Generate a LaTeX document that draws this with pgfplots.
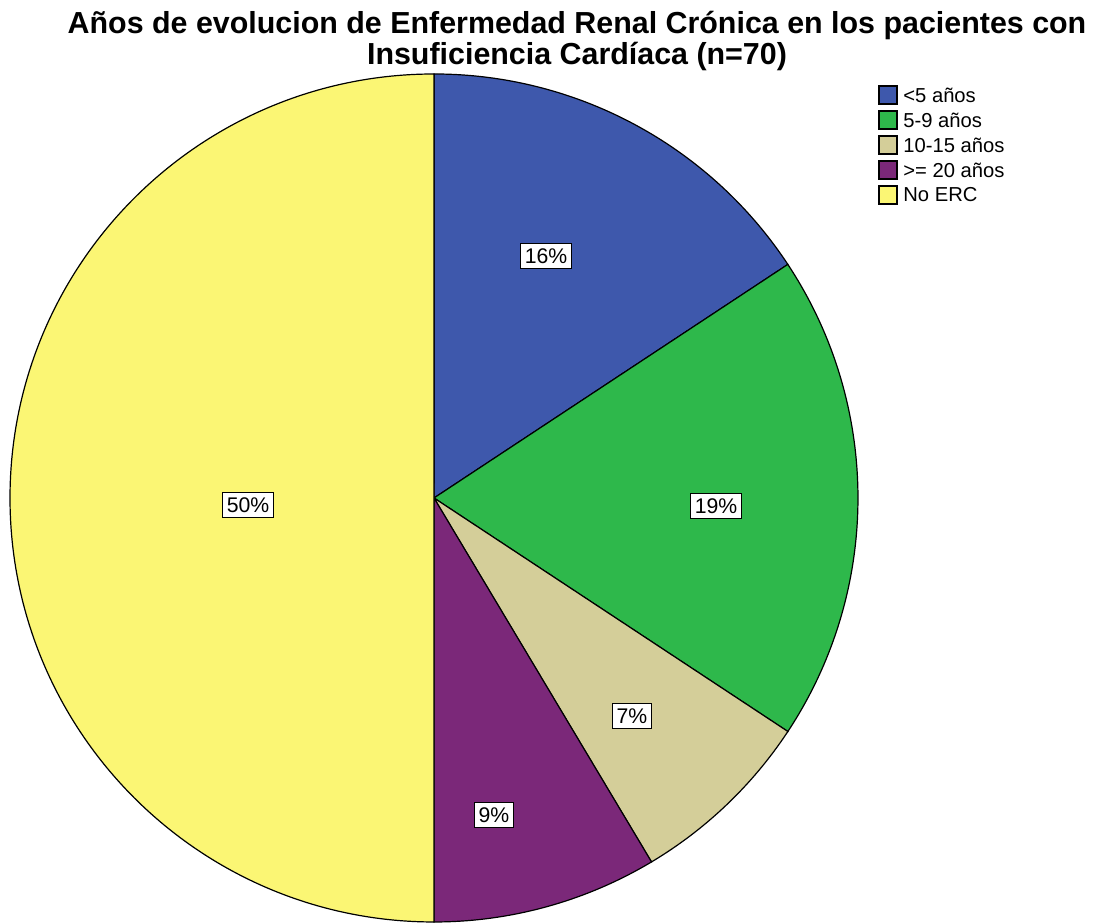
\documentclass[border=0pt]{standalone}
\usepackage{pgfplots}
\pgfplotsset{compat=1.18}
\usepackage{fontspec}
\setmainfont{Liberation Sans}
\definecolor{cA}{HTML}{3E58AC}
\definecolor{cB}{HTML}{2EB84B}
\definecolor{cC}{HTML}{D4CE99}
\definecolor{cD}{HTML}{7B2879}
\definecolor{cE}{HTML}{FBF674}
\begin{document}
\begin{tikzpicture}
% counts (n=70): <5 anos 11, 5-9 anos 13, 10-15 anos 5, >=20 anos 6, No ERC 35
\pgfmathsetmacro\aA{90-11/70*360}
\pgfmathsetmacro\aB{\aA-13/70*360}
\pgfmathsetmacro\aC{\aB-5/70*360}
\pgfmathsetmacro\aD{\aC-6/70*360}
\pgfmathsetmacro\aE{\aD-35/70*360}
\begin{axis}[x=0.5pt,y=0.5pt,xmin=0,xmax=1094,ymin=0,ymax=924,
  hide axis,clip=false,scale only axis,name=ax]
\filldraw[fill=cA,draw=black,line width=0.6pt] (axis cs:434,426) -- ++(90:212pt) arc[start angle=90,end angle=\aA,radius=212pt] -- cycle;
\filldraw[fill=cB,draw=black,line width=0.6pt] (axis cs:434,426) -- ++(\aA:212pt) arc[start angle=\aA,end angle=\aB,radius=212pt] -- cycle;
\filldraw[fill=cC,draw=black,line width=0.6pt] (axis cs:434,426) -- ++(\aB:212pt) arc[start angle=\aB,end angle=\aC,radius=212pt] -- cycle;
\filldraw[fill=cD,draw=black,line width=0.6pt] (axis cs:434,426) -- ++(\aC:212pt) arc[start angle=\aC,end angle=\aD,radius=212pt] -- cycle;
\filldraw[fill=cE,draw=black,line width=0.6pt] (axis cs:434,426) -- ++(\aD:212pt) arc[start angle=\aD,end angle=\aE,radius=212pt] -- cycle;
% percentage labels
\tikzset{pl/.style={draw=black,fill=white,line width=0.7pt,inner xsep=2pt,inner ysep=2.5pt,font=\fontsize{10.6}{11}\selectfont}}
\node[pl] at (axis cs:546,668) {16\%};
\node[pl] at (axis cs:716,418) {19\%};
\node[pl] at (axis cs:632,208) {7\%};
\node[pl] at (axis cs:494,109) {9\%};
\node[pl] at (axis cs:248,419) {50\%};
% title
\node[align=center,font=\fontsize{15.2}{15.5}\selectfont\bfseries] at (axis cs:577,883) {Años de evolucion de Enfermedad Renal Crónica en los pacientes con\\Insuficiencia Cardíaca (n=70)};
% legend
\tikzset{lb/.style={draw=black,line width=0.6pt},lt/.style={anchor=west,inner sep=0pt,font=\fontsize{10.1}{10}\selectfont}}
\filldraw[lb,fill=cA] (axis cs:879,820) rectangle (axis cs:897,838);
\node[lt] at (axis cs:903,829) {<5 años};
\filldraw[lb,fill=cB] (axis cs:879,795) rectangle (axis cs:897,813);
\node[lt] at (axis cs:903,804) {5-9 años};
\filldraw[lb,fill=cC] (axis cs:879,770) rectangle (axis cs:897,788);
\node[lt] at (axis cs:903,779) {10-15 años};
\filldraw[lb,fill=cD] (axis cs:879,745) rectangle (axis cs:897,763);
\node[lt] at (axis cs:903,754) {>= 20 años};
\filldraw[lb,fill=cE] (axis cs:879,720) rectangle (axis cs:897,738);
\node[lt] at (axis cs:903,729) {No ERC};
\end{axis}
\pgfresetboundingbox
\path[use as bounding box] (ax.south west) rectangle (ax.north east);
\end{tikzpicture}
\end{document}
